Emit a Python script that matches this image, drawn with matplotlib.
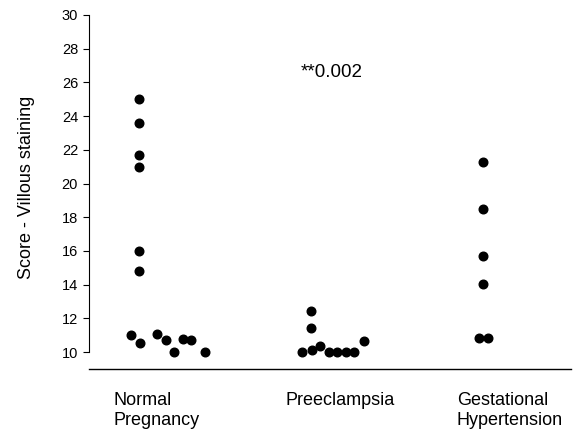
import matplotlib.pyplot as plt
import matplotlib.transforms as mtransforms

plt.rcParams['font.family'] = ['Liberation Sans', 'DejaVu Sans']

# group names
groups = ["Normal\nPregnancy", "Preeclampsia", "Gestational\nHypertension"]

# points (x = group position with the spread used in the plot)
normal_x = [1.0, 1.0, 1.0, 1.0, 1.0, 1.0, 0.952, 1.004, 1.103, 1.157, 1.205, 1.254, 1.304, 1.384]
normal_y = [25.0, 23.6, 21.7, 21.0, 16.0, 14.8, 11.0, 10.55, 11.05, 10.7, 10.0, 10.77, 10.7, 10.0]

pre_x = [2.0, 2.0, 1.95, 2.004, 2.054, 2.105, 2.153, 2.202, 2.252, 2.306]
pre_y = [12.45, 11.42, 10.0, 10.15, 10.35, 10.0, 10.0, 10.0, 10.0, 10.67]

gest_x = [3.0, 3.0, 3.0, 3.0, 2.977, 3.029]
gest_y = [21.25, 18.47, 15.7, 14.05, 10.85, 10.85]

p_text = "**0.002"

fig = plt.figure(figsize=(5.74, 4.29), dpi=100)
ax = fig.add_axes([88.5 / 574, 1 - 369 / 429, (571 - 88.5) / 574, (369 - 15) / 429])

for xs, ys in [(normal_x, normal_y), (pre_x, pre_y), (gest_x, gest_y)]:
    ax.plot(xs, ys, 'o', color='black', markersize=6.2, linestyle='none')

ax.set_xlim(0.706, 3.512)
ax.set_ylim(9, 30)

ax.spines['top'].set_visible(False)
ax.spines['right'].set_visible(False)
ax.spines['left'].set_bounds(10, 30)
ax.spines['left'].set_linewidth(0.8)
ax.spines['bottom'].set_linewidth(1.0)

ax.set_yticks(range(10, 31, 2))
ax.tick_params(axis='y', direction='out', length=4.5, width=0.8, labelsize=10.5, pad=3)

# category labels, left aligned a bit left of each group
ax.set_xticks([1, 2, 3])
ax.set_xticklabels(groups, ha='left', fontsize=13, linespacing=1.2)
ax.tick_params(axis='x', length=0, pad=16.5)
shift = mtransforms.ScaledTranslation(-26 / 100, 0, fig.dpi_scale_trans)
for lab in ax.get_xticklabels():
    lab.set_transform(lab.get_transform() + shift)

ax.set_ylabel("Score - Villous staining", fontsize=13)
ax.yaxis.set_label_coords(-0.11, 0.513)

ax.text(1.94, 26.34, p_text, fontsize=13.5, va='baseline', ha='left')

fig.savefig("out.png", dpi=100)
